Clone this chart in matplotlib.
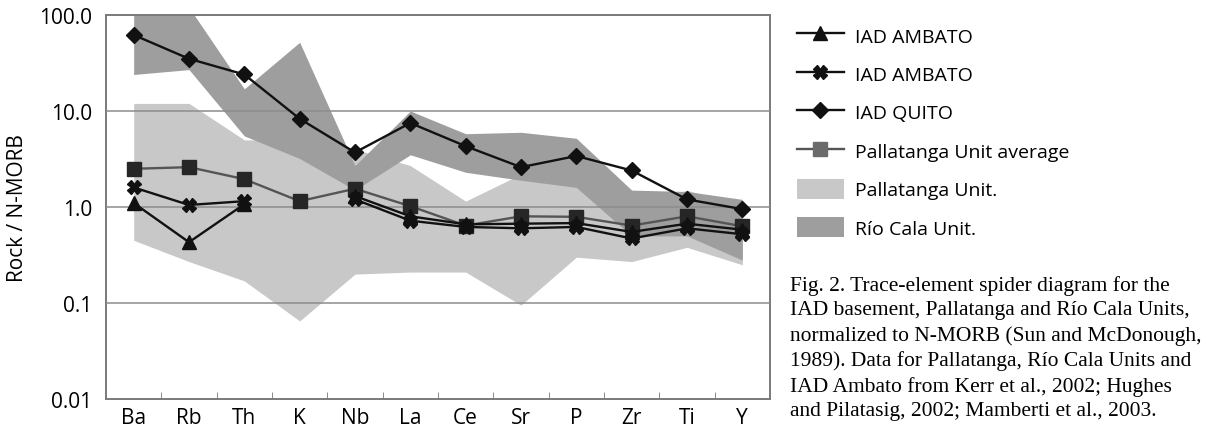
import numpy as np
import matplotlib
matplotlib.use("Agg")
import matplotlib.pyplot as plt
from matplotlib.lines import Line2D
from matplotlib.patches import Patch
from matplotlib.ticker import NullLocator, FixedLocator

plt.rcParams['font.family'] = ['Open Sans', 'DejaVu Sans']

elements = ['Ba', 'Rb', 'Th', 'K', 'Nb', 'La', 'Ce', 'Sr', 'P', 'Zr', 'Ti', 'Y']

# N-MORB normalised values
iad_quito = [62, 35, 24, 8.3, 3.7, 7.5, 4.3, 2.6, 3.4, 2.4, 1.2, 0.95]
pallatanga_avg = [2.5, 2.6, 1.95, 1.15, 1.55, 1.02, 0.64, 0.8, 0.79, 0.64, 0.8, 0.63]
ambato_tri = [1.1, 0.43, 1.07, np.nan, 1.3, 0.8, 0.66, 0.67, 0.68, 0.55, 0.67, 0.58]
ambato_x = [1.6, 1.05, 1.15, np.nan, 1.2, 0.72, 0.62, 0.6, 0.62, 0.47, 0.6, 0.52]

# envelopes
rio_cala_hi = [130, 120, 17, 52, 2.7, 10, 5.8, 6.0, 5.2, 1.5, 1.45, 1.2]
rio_cala_lo = [24, 27, 5.5, 3.2, 1.5, 3.5, 2.3, 1.9, 1.6, 0.5, 0.5, 0.28]
pallatanga_hi = [12, 12, 5, 5, 4, 2.7, 1.15, 2.2, 2.0, 1.0, 1.5, 1.0]
pallatanga_lo = [0.45, 0.27, 0.17, 0.065, 0.2, 0.21, 0.21, 0.095, 0.3, 0.27, 0.38, 0.25]

caption = ("Fig. 2. Trace-element spider diagram for the\n"
           "IAD basement, Pallatanga and Río Cala Units,\n"
           "normalized to N-MORB (Sun and McDonough,\n"
           "1989). Data for Pallatanga, Río Cala Units and\n"
           "IAD Ambato from Kerr et al., 2002; Hughes\n"
           "and Pilatasig, 2002; Mamberti et al., 2003.")

light = '#c8c8c8'
dark = '#9e9e9e'

fig = plt.figure(figsize=(12.16, 4.31), dpi=100)
ax = fig.add_axes([106/1216, 1-400/431, 664/1216, 384/431])
x = np.arange(len(elements))

ax.fill_between(x, pallatanga_lo, pallatanga_hi, color=light, lw=0, zorder=1)
ax.fill_between(x, rio_cala_lo, rio_cala_hi, color=dark, lw=0, zorder=2)

ax.plot(x, pallatanga_avg, color='#555555', lw=1.7, marker='s', ms=10,
        mfc='#262626', mec='#262626', zorder=4)
ax.plot(x, ambato_tri, color='#111111', lw=1.7, marker='^', ms=10,
        mfc='#111111', mec='#111111', zorder=5)
ax.plot(x, ambato_x, color='#111111', lw=1.7, marker='X', ms=10,
        mfc='#111111', mec='#111111', zorder=5)
ax.plot(x, iad_quito, color='#111111', lw=1.7, marker='D', ms=8,
        mfc='#111111', mec='#111111', zorder=6)

ax.set_yscale('log')
ax.set_ylim(0.01, 100)
ax.set_xlim(-0.5, 11.5)
ax.yaxis.set_major_locator(FixedLocator([0.01, 0.1, 1, 10, 100]))
ax.yaxis.set_minor_locator(NullLocator())
ax.set_yticklabels(['0.01', '0.1', '1.0', '10.0', '100.0'])
ax.tick_params(axis='y', length=0, pad=10, labelsize=15)
ax.set_xticks(x)
ax.set_xticklabels(elements)
ax.tick_params(axis='x', length=0, pad=6, labelsize=15)
ax.set_xticks(x[:-1] + 0.5, minor=True)
ax.tick_params(axis='x', which='minor', direction='in', length=5, color='#777777')
ax.set_ylabel('Rock / N-MORB', fontsize=15, labelpad=8)

for v in [0.1, 1, 10]:
    ax.axhline(v, color='#8c8c8c', lw=1.1, zorder=3)
for s in ax.spines.values():
    s.set_color('#7a7a7a')
    s.set_linewidth(1.4)

handles = [
    Line2D([], [], color='#111111', lw=1.7, marker='^', ms=10),
    Line2D([], [], color='#111111', lw=1.7, marker='X', ms=10),
    Line2D([], [], color='#111111', lw=1.7, marker='D', ms=8),
    Line2D([], [], color='#555555', lw=1.7, marker='s', ms=10, mfc='#6a6a6a', mec='#6a6a6a'),
    Patch(facecolor=light, edgecolor='none'),
    Patch(facecolor=dark, edgecolor='none'),
]
labels = ['IAD AMBATO', 'IAD AMBATO', 'IAD QUITO', 'Pallatanga Unit average',
          'Pallatanga Unit.', 'Río Cala Unit.']
fig.legend(handles, labels, loc='upper left', bbox_to_anchor=(797/1216, 1-26/431),
           frameon=False, fontsize=14, labelspacing=0.92, handlelength=2.4,
           handleheight=1.2, handletextpad=0.6, borderpad=0, borderaxespad=0)

fig.text(790/1216, 1-276/431, caption, family=['Liberation Serif', 'DejaVu Serif'],
         fontsize=15.5, va='top', ha='left', linespacing=1.38)

fig.savefig('out.png', dpi=100)
